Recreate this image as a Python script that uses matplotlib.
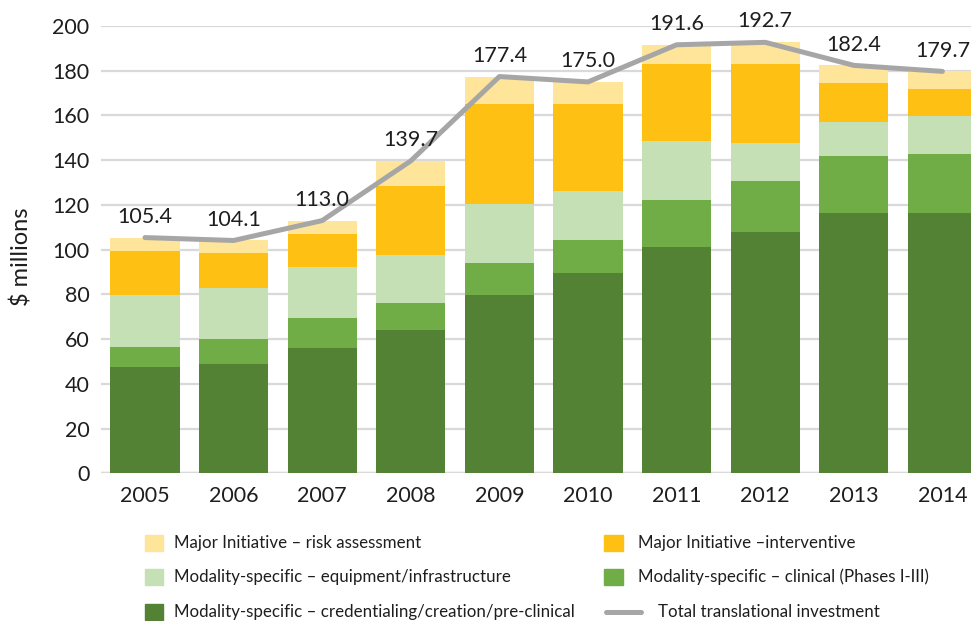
import matplotlib
matplotlib.use('Agg')
from matplotlib import pyplot as plt
from matplotlib.lines import Line2D
import numpy as np

plt.rcParams['font.family'] = ['Lato', 'DejaVu Sans']

years = ['2005', '2006', '2007', '2008', '2009', '2010', '2011', '2012', '2013', '2014']
preclinical = [47.7, 48.7, 56.2, 63.9, 79.9, 89.4, 101.3, 108.0, 116.5, 116.5]
clinical = [8.6, 11.4, 13.4, 12.1, 14.0, 14.9, 20.9, 22.6, 25.4, 26.3]
equipment = [23.6, 22.8, 22.6, 21.8, 26.5, 21.8, 26.4, 17.1, 15.2, 17.0]
interventive = [19.7, 15.8, 15.0, 30.8, 44.9, 39.2, 34.6, 35.5, 17.6, 12.0]
risk = [5.8, 5.4, 5.8, 11.1, 12.1, 9.7, 8.4, 9.5, 7.7, 7.9]
total = [105.4, 104.1, 113.0, 139.7, 177.4, 175.0, 191.6, 192.7, 182.4, 179.7]

names = ['Modality-specific \u2013 credentialing/creation/pre-clinical',
         'Modality-specific \u2013 clinical (Phases I-III)',
         'Modality-specific \u2013 equipment/infrastructure',
         'Major Initiative \u2013interventive',
         'Major Initiative \u2013 risk assessment']
colors = ['#548235', '#70ad47', '#c5e0b4', '#fdc013', '#fee599']
line_color = '#a6a6a6'
text_color = '#1e1e1e'

fig = plt.figure(figsize=(9.71, 6.21), dpi=100)
ax = fig.add_axes([100.7 / 971, 1 - 473.3 / 621, 886 / 971, 447.3 / 621])

x = np.arange(len(years))
bottom = np.zeros(len(years))
for vals, c in zip([preclinical, clinical, equipment, interventive, risk], colors):
    ax.bar(x, vals, 0.78, bottom=bottom, color=c, zorder=2)
    bottom += np.array(vals)

ax.plot(x, total, color=line_color, lw=3.6, zorder=3, solid_capstyle='round')
for xi, t in zip(x, total):
    ax.annotate(f'{t:.1f}', (xi, t), xytext=(0, 15), textcoords='offset points',
                ha='center', va='center', fontsize=15.5, color=text_color)

ax.set_xlim(-0.5, 9.5)
ax.set_ylim(0, 200)
ax.set_yticks(range(0, 201, 20))
ax.set_xticks(x)
ax.set_xticklabels(years)
ax.tick_params(length=0, labelsize=15.5, colors=text_color)
ax.tick_params(axis='y', pad=8)
ax.tick_params(axis='x', pad=9)
ax.grid(axis='y', color='#d9d9d9', lw=1.6, zorder=0)
for s in ax.spines.values():
    s.set_visible(False)
ax.axhline(0, color='#d9d9d9', lw=2.5, zorder=1)

fig.text(22 / 971, 1 - 257 / 621, '$ millions', rotation=90, ha='center', va='center',
         fontsize=17, color=text_color)

# legend, drawn by hand to match the two-column layout
rows = [543, 577, 612]
left_items = [(colors[4], names[4]), (colors[2], names[2]), (colors[0], names[0])]
right_items = [(colors[3], names[3]), (colors[1], names[1])]
for (c, name), ry in zip(left_items, rows):
    fig.patches.append(plt.Rectangle((145 / 971, 1 - (ry + 8) / 621), 18 / 971, 16 / 621,
                                     transform=fig.transFigure, color=c, figure=fig))
    fig.text(174 / 971, 1 - ry / 621, name, ha='left', va='center', fontsize=12.2, color=text_color)
for (c, name), ry in zip(right_items, rows[:2]):
    fig.patches.append(plt.Rectangle((604 / 971, 1 - (ry + 8) / 621), 19 / 971, 16 / 621,
                                     transform=fig.transFigure, color=c, figure=fig))
    fig.text(638 / 971, 1 - ry / 621, name, ha='left', va='center', fontsize=12.2, color=text_color)
fig.lines.append(Line2D([606 / 971, 641 / 971], [1 - 612 / 621, 1 - 612 / 621], transform=fig.transFigure,
                        color=line_color, lw=3.6, solid_capstyle='round', figure=fig))
fig.text(658 / 971, 1 - 612 / 621, 'Total translational investment', ha='left', va='center',
         fontsize=12.2, color=text_color)

fig.savefig('out.png', dpi=100)
